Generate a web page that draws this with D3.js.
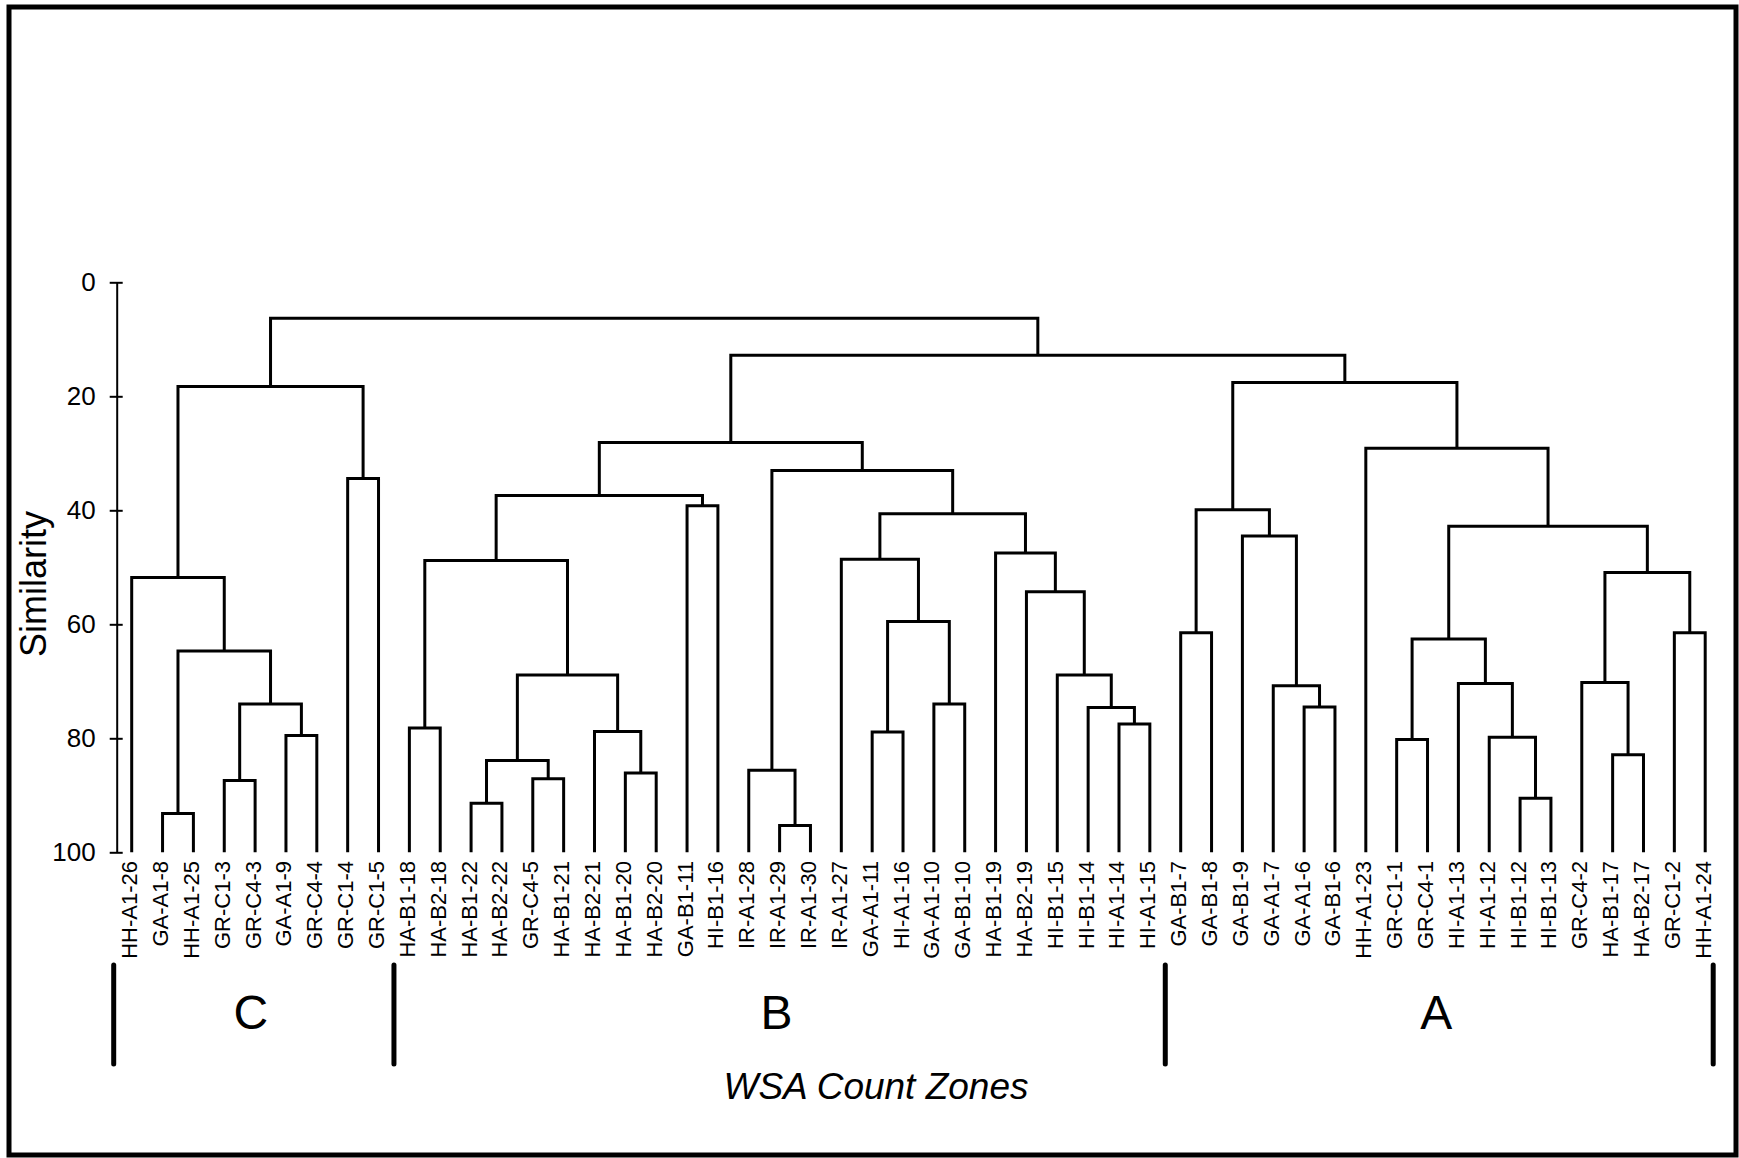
<!DOCTYPE html>
<html>
<head>
<meta charset="utf-8">
<script src="https://cdn.jsdelivr.net/npm/d3@7"></script>
<style>
  body { margin: 0; background: #fff; }
  svg { display: block; font-family: "Liberation Sans", Arial, sans-serif; }
</style>
</head>
<body>
<svg id="chart" width="1739" height="1158"></svg>
<script>
// leaf order along the x axis
const leaves = [
  "HH-A1-26", "GA-A1-8", "HH-A1-25", "GR-C1-3", "GR-C4-3", "GA-A1-9", "GR-C4-4", "GR-C1-4", "GR-C1-5",
  "HA-B1-18", "HA-B2-18", "HA-B1-22", "HA-B2-22", "GR-C4-5", "HA-B1-21", "HA-B2-21", "HA-B1-20", "HA-B2-20",
  "GA-B1-11", "HI-B1-16", "IR-A1-28", "IR-A1-29", "IR-A1-30", "IR-A1-27", "GA-A1-11", "HI-A1-16", "GA-A1-10",
  "GA-B1-10", "HA-B1-19", "HA-B2-19", "HI-B1-15", "HI-B1-14", "HI-A1-14", "HI-A1-15",
  "GA-B1-7", "GA-B1-8", "GA-B1-9", "GA-A1-7", "GA-A1-6", "GA-B1-6", "HH-A1-23", "GR-C1-1", "GR-C4-1",
  "HI-A1-13", "HI-A1-12", "HI-B1-12", "HI-B1-13", "GR-C4-2", "HA-B1-17", "HA-B2-17", "GR-C1-2", "HH-A1-24"
];

// merges: [id, left, right, similarity]
const merges = [
  ["c1", "GA-A1-8", "HH-A1-25", 93.2],
  ["c2", "GR-C1-3", "GR-C4-3", 87.4],
  ["c3", "GA-A1-9", "GR-C4-4", 79.5],
  ["c4", "c2", "c3", 74.0],
  ["c5", "c1", "c4", 64.7],
  ["c6", "HH-A1-26", "c5", 51.8],
  ["c7", "GR-C1-4", "GR-C1-5", 34.4],
  ["c8", "c6", "c7", 18.3],

  ["b1", "HA-B1-18", "HA-B2-18", 78.2],
  ["b2", "HA-B1-22", "HA-B2-22", 91.4],
  ["b3", "GR-C4-5", "HA-B1-21", 87.1],
  ["b4", "b2", "b3", 83.9],
  ["b5", "HA-B1-20", "HA-B2-20", 86.1],
  ["b6", "HA-B2-21", "b5", 78.8],
  ["b7", "b4", "b6", 68.9],
  ["b8", "b1", "b7", 48.8],
  ["b9", "GA-B1-11", "HI-B1-16", 39.2],
  ["b10", "b8", "b9", 37.4],
  ["b11", "IR-A1-29", "IR-A1-30", 95.3],
  ["b12", "IR-A1-28", "b11", 85.6],
  ["b13", "GA-A1-11", "HI-A1-16", 78.9],
  ["b14", "GA-A1-10", "GA-B1-10", 74.0],
  ["b15", "b13", "b14", 59.5],
  ["b16", "IR-A1-27", "b15", 48.6],
  ["b17", "HI-A1-14", "HI-A1-15", 77.5],
  ["b18", "HI-B1-14", "b17", 74.6],
  ["b19", "HI-B1-15", "b18", 68.9],
  ["b20", "HA-B2-19", "b19", 54.3],
  ["b21", "HA-B1-19", "b20", 47.5],
  ["b22", "b16", "b21", 40.6],
  ["b23", "b12", "b22", 33.0],
  ["b24", "b10", "b23", 28.1],

  ["a1", "GA-B1-7", "GA-B1-8", 61.5],
  ["a2", "GA-A1-6", "GA-B1-6", 74.5],
  ["a3", "GA-A1-7", "a2", 70.8],
  ["a4", "GA-B1-9", "a3", 44.5],
  ["a5", "a1", "a4", 39.9],
  ["a6", "GR-C1-1", "GR-C4-1", 80.2],
  ["a7", "HI-B1-12", "HI-B1-13", 90.5],
  ["a8", "HI-A1-12", "a7", 79.8],
  ["a9", "HI-A1-13", "a8", 70.4],
  ["a10", "a6", "a9", 62.6],
  ["a11", "HA-B1-17", "HA-B2-17", 82.9],
  ["a12", "GR-C4-2", "a11", 70.2],
  ["a13", "GR-C1-2", "HH-A1-24", 61.5],
  ["a14", "a12", "a13", 50.9],
  ["a15", "a10", "a14", 42.8],
  ["a16", "HH-A1-23", "a15", 29.1],
  ["a17", "a5", "a16", 17.6],

  ["t1", "b24", "a17", 12.8],
  ["root", "c8", "t1", 6.3]
];

const yTicks = [0, 20, 40, 60, 80, 100];
const zoneNames = ["C", "B", "A"];
const zoneEdges = ["HH-A1-26", "HA-B1-18", "GA-B1-7", "HH-A1-24"];

const svg = d3.select("#chart");

// outer frame
svg.append("rect")
  .attr("x", 9).attr("y", 7)
  .attr("width", 1727).attr("height", 1148)
  .attr("fill", "none").attr("stroke", "#000").attr("stroke-width", 5);

const x = d3.scalePoint().domain(leaves).range([131.7, 1705.2]);
const y = d3.scaleLinear().domain([0, 100]).range([282.3, 852.3]);

// build the tree
let byId = {};
leaves.forEach(function(n) { byId[n] = { name: n, sim: 100 }; });
merges.forEach(function(m) {
  byId[m[0]] = { name: m[0], sim: m[3], children: [byId[m[1]], byId[m[2]]] };
});
const root = d3.hierarchy(byId["root"]);
root.eachAfter(function(d) {
  if (!d.children) d.x = x(d.data.name);
  else d.x = d3.mean(d.children, function(c) { return c.x; });
});

// y axis
const axis = svg.append("g")
  .attr("transform", "translate(116.7,0)")
  .call(d3.axisLeft(y).tickValues(yTicks).tickSizeInner(7).tickSizeOuter(0).tickPadding(14));
axis.select(".domain").attr("stroke-width", 2);
axis.selectAll(".tick line").attr("x1", 6).attr("stroke-width", 2);
axis.selectAll(".tick text")
  .attr("font-size", 26)
  .attr("font-family", "Liberation Sans, Arial, sans-serif")
  .attr("fill", "#000");

svg.append("text")
  .attr("transform", "translate(46,584) rotate(-90)")
  .attr("text-anchor", "middle")
  .attr("font-size", 36)
  .text("Similarity");

// dendrogram links
const inner = root.descendants().filter(function(d) { return d.children; });
svg.append("g")
  .selectAll("path")
  .data(inner)
  .join("path")
  .attr("fill", "none")
  .attr("stroke", "#000")
  .attr("stroke-width", 3)
  .attr("d", function(d) {
    let l = d.children[0], r = d.children[1];
    return "M" + l.x + "," + y(l.data.sim) +
      "V" + y(d.data.sim) +
      "H" + r.x +
      "V" + y(r.data.sim);
  });

// leaf labels
svg.append("g")
  .selectAll("text")
  .data(leaves)
  .join("text")
  .attr("transform", function(d) { return "translate(" + x(d) + ",861) rotate(-90)"; })
  .attr("dy", "0.25em")
  .attr("text-anchor", "end")
  .attr("font-size", 22)
  .text(function(d) { return d; });

// zone separators
const step = x.step();
const edgeX = zoneEdges.map(function(n, i) {
  if (i === 0) return x(n) - 18;
  if (i === zoneEdges.length - 1) return x(n) + 8;
  return x(n) - step / 2;
});

svg.append("g")
  .selectAll("line")
  .data(edgeX)
  .join("line")
  .attr("x1", function(d) { return d; })
  .attr("x2", function(d) { return d; })
  .attr("y1", 965).attr("y2", 1064)
  .attr("stroke", "#000")
  .attr("stroke-width", 5)
  .attr("stroke-linecap", "round");

svg.append("g")
  .selectAll("text")
  .data(zoneNames)
  .join("text")
  .attr("x", function(d, i) { return (edgeX[i] + edgeX[i + 1]) / 2 - 3; })
  .attr("y", 1029)
  .attr("text-anchor", "middle")
  .attr("font-size", 48)
  .text(function(d) { return d; });

svg.append("text")
  .attr("x", 876)
  .attr("y", 1099)
  .attr("text-anchor", "middle")
  .attr("font-size", 37)
  .attr("font-style", "italic")
  .text("WSA Count Zones");
</script>
</body>
</html>
